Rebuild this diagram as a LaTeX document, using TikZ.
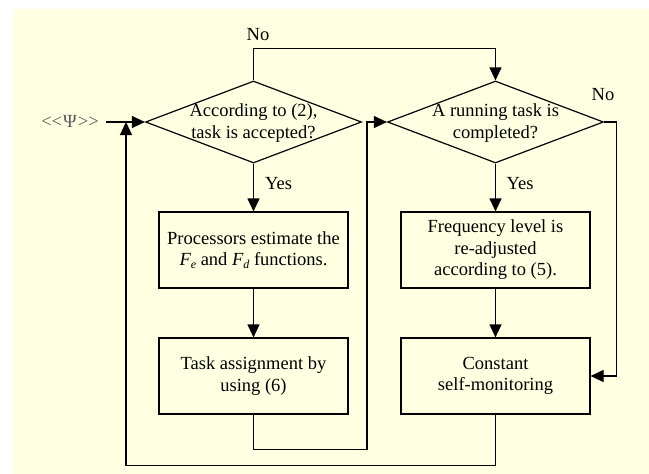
\documentclass[tikz,border=0pt]{standalone}
\usepackage{fontspec}
\setmainfont{Liberation Serif}
\usetikzlibrary{arrows.meta,shapes.geometric}
\definecolor{bgyellow}{RGB}{255,255,225}
\newcommand{\subit}[2]{{\itshape #1}\raisebox{-0.35ex}{\fontsize{12}{12}\selectfont\itshape #2}}
\tikzset{
  txt/.style={font=\fontsize{18.5}{21.5}\selectfont, align=center, inner sep=0pt},
  decision/.style={draw, line width=1.2pt, shape=diamond, inner sep=0pt,
    minimum width=216pt, minimum height=82pt},
  procbox/.style={draw, line width=1.2pt, rectangle, inner sep=0pt,
    minimum width=189pt, minimum height=76pt},
  flow/.style={line width=1.2pt, -{Triangle[length=13pt,width=12pt]}},
}
\begin{document}
\begin{tikzpicture}[x=1pt,y=-1pt]
\useasboundingbox (0,0) rectangle (649,474);
\fill[bgyellow] (13,9) rectangle (649,474);

% decisions
\node[decision] (d1) at (253.5,122) {};
\node[txt] (d1t) at (253.5,123) {According to (2),\\task is accepted?};
\node[decision] (d2) at (495.5,122) {};
\node[txt] (d2t) at (495.5,123) {A running task is\\completed?};

% process boxes
\node[procbox] (b1) at (253.5,250) {};
\node[txt] (b1t) at (b1) {Processors estimate the\\\subit{F}{e} and \subit{F}{d} functions.};
\node[procbox] (b2) at (253.5,376) {};
\node[txt] (b2t) at (b2) {Task assignment by\\using (6)};
\node[procbox] (b3) at (495.5,250) {};
\node[txt] (b3t) at (b3) {Frequency level is\\re-adjusted\\according to (5).};
\node[procbox] (b4) at (495.5,376) {};
\node[txt] (b4t) at (b4) {Constant\\self-monitoring};

% labels
\node[txt, text=black!65] (psi) at (70,121) {<{}<\kern1ptΨ\kern1pt>{}>};
\node[txt] (no1) at (258,35) {No};
\node[txt] (no2) at (603,95) {No};
\node[txt] (yes1) at (278.5,184) {Yes};
\node[txt] (yes2) at (520,184) {Yes};

% free ends
\coordinate (in0) at (106,122);
\coordinate (merge) at (126,122);
\coordinate (jump) at (367,122);

% connectors
\draw[flow] (in0) -- (d1.west);
\draw[flow] (d1.south) -- (b1.north);
\draw[flow] (b1.south) -- (b2.north);
\draw[flow] (d1.north) -- ++(0,-32) -| (d2.north);
\draw[flow] (b2.south) -- ++(0,35) -| (jump) -- (d2.west);
\draw[flow] (d2.south) -- (b3.north);
\draw[flow] (b3.south) -- (b4.north);
\draw[flow] (d2.east) -- ++(12,0) |- (b4.east);
\draw[flow] (b4.south) -- ++(0,51) -| (merge);
\end{tikzpicture}
\end{document}
